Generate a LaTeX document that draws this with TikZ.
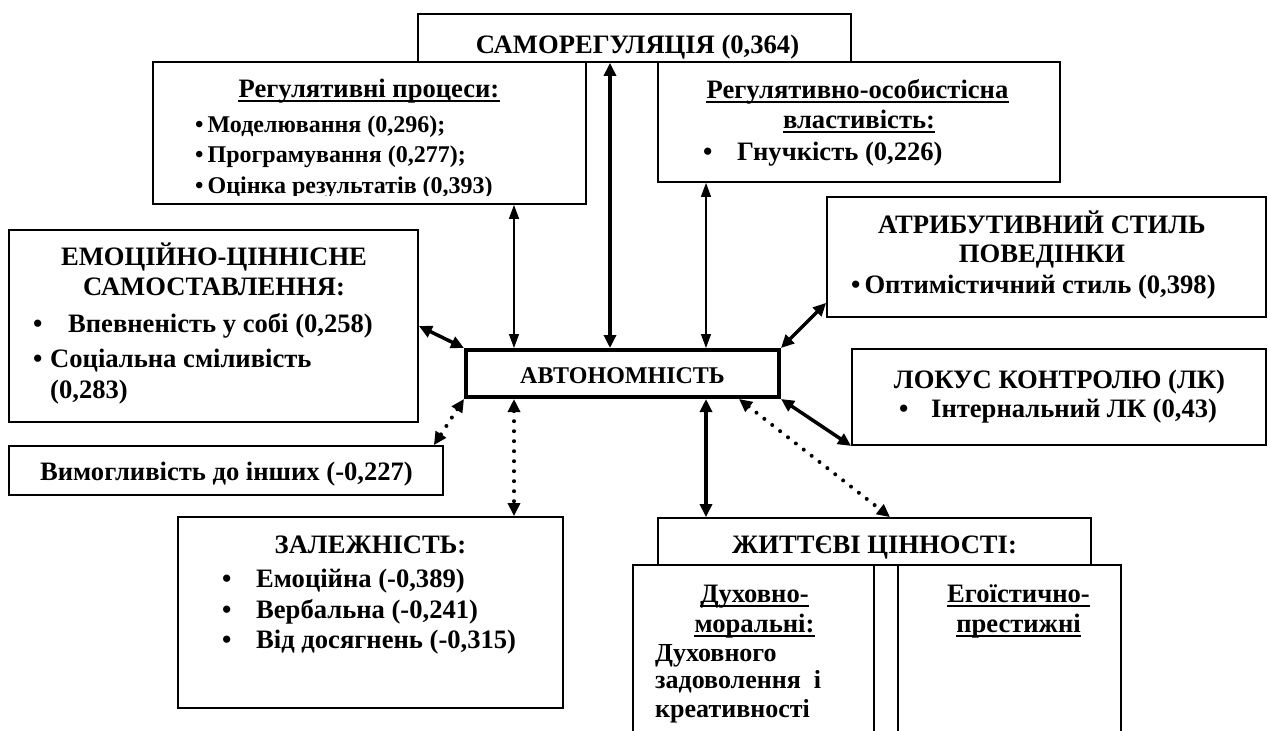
\documentclass[tikz,border=0pt]{standalone}
\usepackage{fontspec}
\setmainfont{Liberation Serif}
\usetikzlibrary{arrows.meta}
\newcommand\fs{\fontsize{26.6}{30}\selectfont\bfseries}
\newcommand\fsr{\fontsize{24}{28}\selectfont\bfseries}
\newcommand\fsm{\fontsize{26}{30}\selectfont\bfseries}
\begin{document}
\begin{tikzpicture}[x=1pt,y=-1pt,
  box/.style={draw, line width=1.8pt, inner sep=0pt},
  boxthick/.style={draw, line width=4pt, inner sep=0pt},
  txt/.style={inner sep=0pt, font=\fs, anchor=base},
  txtl/.style={inner sep=0pt, font=\fs, anchor=base west},
  uline/.style={line width=1.6pt},
  thickarr/.style={line width=3.5pt, {Triangle[length=13pt,width=12pt]}-{Triangle[length=13pt,width=12pt]}},
  thinarr/.style={line width=1.3pt, {Triangle[length=14pt,width=10pt]}-{Triangle[length=14pt,width=10pt]}},
  dotarr/.style={line width=4pt, line cap=round, dash pattern=on 0pt off 10pt, {Triangle[length=13pt,width=12pt]}-{Triangle[length=13pt,width=12pt]}}
]
\useasboundingbox (0,0) rectangle (1270,731);
\fill[white] (0,0) rectangle (1270,731);
\clip (0,0) rectangle (1270,731);

% boxes
\node[box, minimum width=433pt, minimum height=48pt] (S) at (634.5,38) {};
\node[box, minimum width=433pt, minimum height=142pt] (R) at (369.5,133) {};
\node[box, minimum width=402pt, minimum height=120pt] (P) at (859,122) {};
\node[box, minimum width=439pt, minimum height=120pt] (A) at (1046.5,257) {};
\node[box, minimum width=414pt, minimum height=96pt] (L) at (1059,397) {};
\node[box, minimum width=409pt, minimum height=192pt] (E) at (213.5,326) {};
\node[boxthick, minimum width=313pt, minimum height=47pt] (N) at (622.5,373.5) {};
\node[box, minimum width=434pt, minimum height=49pt] (V) at (226,470.5) {};
\node[box, minimum width=385pt, minimum height=191pt] (Z) at (370.5,612.5) {};
\node[box, minimum width=433pt, minimum height=47pt] (J) at (874.5,541.5) {};
\node[box, minimum width=241pt, minimum height=180pt] (D) at (753.5,655) {};
\node[box, minimum width=223pt, minimum height=180pt] (G) at (1009.5,655) {};

% texts
\node[txt] (s1) at (637.5,53) {САМОРЕГУЛЯЦІЯ (0,364)};

\node[txt] (r1) at (369,97) {Регулятивні процеси:};
\draw[uline] ([yshift=-4pt]r1.base west) -- ([yshift=-4pt]r1.base east);
\node[txtl, font=\fsr] (r2) at (195,132) {•\hspace{4pt}Моделювання (0,296);};
\node[txtl, font=\fsr] (r3) at (195,162) {•\hspace{4pt}Програмування (0,277);};
\begin{scope}
\clip (R.north west) rectangle ([yshift=9pt]R.south east);
\node[txtl, font=\fsr] (r4) at (195,193) {•\hspace{4pt}Оцінка результатів (0,393)};
\end{scope}

\node[txt] (p1) at (857.5,98) {Регулятивно-особистісна};
\draw[uline] ([yshift=-4pt]p1.base west) -- ([yshift=-4pt]p1.base east);
\node[txt] (p2) at (859,128) {властивість:};
\draw[uline] ([yshift=-4pt]p2.base west) -- ([yshift=-4pt]p2.base east);
\node[txtl] (p3) at (703,160) {\makebox[34pt][l]{•}Гнучкість (0,226)};

\node[txt] (a1) at (1042,233) {АТРИБУТИВНИЙ СТИЛЬ};
\node[txt] (a2) at (1042,262) {ПОВЕДІНКИ};
\node[txtl] (a3) at (851,293) {•\hspace{4pt}Оптимістичний стиль (0,398)};

\node[txt] (l1) at (1059.5,388) {ЛОКУС КОНТРОЛЮ (ЛК)};
\node[txtl] (l2) at (899,417) {\makebox[32pt][l]{•}Інтернальний ЛК (0,43)};

\node[txt] (e1) at (214,265) {ЕМОЦІЙНО-ЦІННІСНЕ};
\node[txt] (e2) at (214,295) {САМОСТАВЛЕННЯ:};
\node[txtl] (e3) at (33,332) {\makebox[35pt][l]{•}Впевненість у собі (0,258)};
\node[txtl] (e4) at (33,367) {\makebox[17pt][l]{•}Соціальна сміливість};
\node[txtl] (e5) at (50,398) {(0,283)};

\node[txt, font=\fsr] (n1) at (622.5,383) {АВТОНОМНІСТЬ};

\node[txt] (v1) at (226.5,480) {Вимогливість до інших (-0,227)};

\node[txt] (z1) at (370.5,553) {ЗАЛЕЖНІСТЬ:};
\node[txtl] (z2) at (222,587) {\makebox[34pt][l]{•}Емоційна (-0,389)};
\node[txtl] (z3) at (222,618) {\makebox[34pt][l]{•}Вербальна (-0,241)};
\node[txtl] (z4) at (222,648) {\makebox[34pt][l]{•}Від досягнень (-0,315)};

\node[txt] (j1) at (874.5,553) {ЖИТТЄВІ ЦІННОСТІ:};

\node[txt] (d1) at (754.5,602) {Духовно-};
\draw[uline] ([yshift=-4pt]d1.base west) -- ([yshift=-4pt]d1.base east);
\node[txt] (d2) at (754.5,632) {моральні:};
\draw[uline] ([yshift=-4pt]d2.base west) -- ([yshift=-4pt]d2.base east);
\node[inner sep=0pt, font=\fsm, anchor=base west] (d3) at (655,661) {Духовного};
\node[inner sep=0pt, font=\fsm, anchor=base west] (d4) at (655,688) {задоволення\ \ і};
\node[inner sep=0pt, font=\fsm, anchor=base west] (d5) at (655,717) {креативності};

\node[txt] (g1) at (1018.5,602) {Егоїстично-};
\draw[uline] ([yshift=-4pt]g1.base west) -- ([yshift=-4pt]g1.base east);
\node[txt] (g2) at (1018.5,632) {престижні};
\draw[uline] ([yshift=-4pt]g2.base west) -- ([yshift=-4pt]g2.base east);

% connectors
\coordinate (x514) at (514,0);
\coordinate (x610) at (610,0);
\coordinate (x706) at (706,0);
\draw[thickarr] (S.south -| x610) -- (N.north -| x610);
\draw[thinarr] (R.south -| x514) -- (N.north -| x514);
\draw[thinarr] (P.south -| x706) -- (N.north -| x706);
\draw[thickarr] (N.north east) -- ([yshift=15pt]A.south west);
\draw[thickarr] (N.south east) -- (L.south west);
\draw[thickarr] (E.east) -- (N.north west);
\draw[dotarr] (N.south west) -- ([xshift=-10pt]V.north east);
\draw[dotarr] (N.south -| x514) -- (Z.north -| x514);
\draw[thickarr] (N.south -| x706) -- (J.north -| x706);
\draw[dotarr] ([xshift=116.5pt]N.south) -- ([xshift=15.5pt]J.north);
\end{tikzpicture}
\end{document}
